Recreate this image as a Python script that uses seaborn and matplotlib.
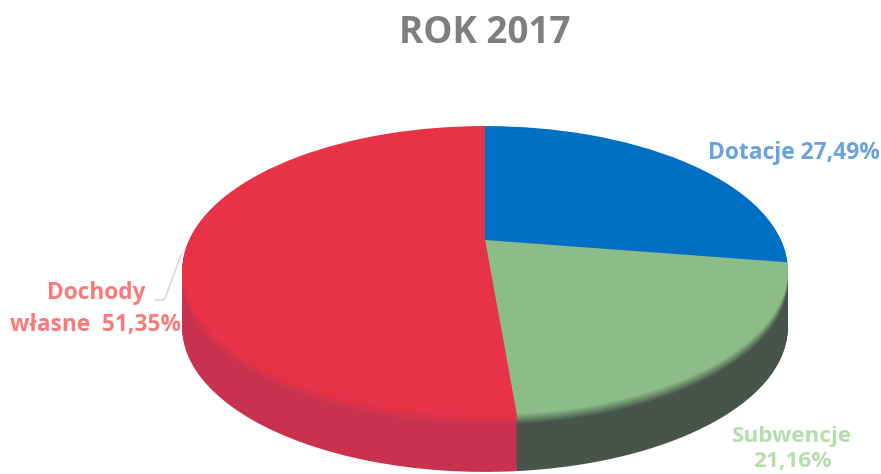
#!/usr/bin/env python3
# -*- coding: utf-8 -*-
"""Wykres kolowy 3D - struktura dochodow, rok 2017."""

import numpy as np
import matplotlib
matplotlib.use("Agg")
import matplotlib.pyplot as plt
from matplotlib.transforms import Affine2D, Transform
import seaborn as sns

tytul = "ROK 2017"
kategorie = ["Dotacje", "Subwencje", "Dochody własne"]
udzialy = [27.49, 21.16, 51.35]
etykiety_proc = ["27,49%", "21,16%", "51,35%"]

kolory_gora = ["#0170c4", "#8cbc88", "#e83248"]
kolory_bok = ["#0a4f8c", "#46544a", "#c8324e"]
kolory_tekst = ["#6aa3dc", "#a5d59a", "#f97a78"]
kolor_tytul = "#7f7f7f"

sns.set_theme(style="white")
plt.rcParams["font.family"] = ["Open Sans", "DejaVu Sans"]

SZER, WYS = 881, 474
fig = plt.figure(figsize=(SZER / 100, WYS / 100), dpi=100)
ax = fig.add_axes([0, 0, 1, 1])


# perspektywa: kolo rzutowane na elipse, srodek tortu ponad srodkiem elipsy
class Perspektywa(Transform):
    input_dims = output_dims = 2
    is_separable = False
    has_inverse = False

    def transform_non_affine(self, xy):
        xy = np.asarray(xy, dtype=float)
        m = 1.0 + 0.211 * xy[:, 1]
        return np.column_stack((296.0 * xy[:, 0] / m, 138.0 * xy[:, 1] / m))

    def transform_path_non_affine(self, path):
        return path.__class__(self.transform_non_affine(path.vertices), path.codes)


persp = Perspektywa()


def rysuj_warstwe(kolory, przesun=0):
    wedges, _ = ax.pie(udzialy, colors=kolory, startangle=90, counterclock=False,
                       radius=1.0, wedgeprops={"linewidth": 0})
    for w in wedges:
        w.set_transform(persp + ax.transData + Affine2D().translate(0, -przesun))
    return wedges


# bok walca: warstwy od dolu do gory, przy krawedzi lagodne przejscie koloru
glebokosc = 57
przejscie = 12
gradient = [sns.blend_palette([g, b], przejscie) for g, b in zip(kolory_gora, kolory_bok)]
for k in range(glebokosc, 0, -1):
    if k < przejscie:
        rysuj_warstwe([gradient[i][k] for i in range(3)], k)
    else:
        rysuj_warstwe(kolory_bok, k)
rysuj_warstwe(kolory_gora)

# pie() ustawia proporcje i zakresy - tutaj os liczona w pikselach obrazka
ax.set_aspect("auto")
ax.set_axis_off()
ax.set_xlim(-485, SZER - 485)
ax.set_ylim(240 - WYS, 240)


# opisy w pikselach obrazka
def piks(x, y):
    return x / SZER, 1 - y / WYS


fig.text(*piks(485, 33), tytul, color=kolor_tytul, fontsize=26.5, fontweight="bold",
         ha="center", va="center")
fig.text(*piks(794, 153), f"{kategorie[0]} {etykiety_proc[0]}", color=kolory_tekst[0],
         fontsize=16.4, fontweight="bold", ha="center", va="center")
fig.text(*piks(96, 309), "Dochody\nwłasne  " + etykiety_proc[2], color=kolory_tekst[2],
         fontsize=16.3, fontweight="bold", ha="center", va="center", linespacing=1.45,
         multialignment="center")
fig.text(*piks(792, 449), f"{kategorie[1]}\n{etykiety_proc[1]}", color=kolory_tekst[1],
         fontsize=16.2, fontweight="bold", ha="center", va="center", linespacing=1.25,
         alpha=0.8)

# linia odniesienia etykiety Dochody
ax.annotate("", xy=piks(182, 252), xytext=piks(152, 300), xycoords="figure fraction",
            textcoords="figure fraction",
            arrowprops=dict(arrowstyle="-", color="#d9d9d9", lw=1.2,
                            connectionstyle="angle,angleA=0,angleB=70,rad=2"))

fig.savefig("out.png", dpi=100)
